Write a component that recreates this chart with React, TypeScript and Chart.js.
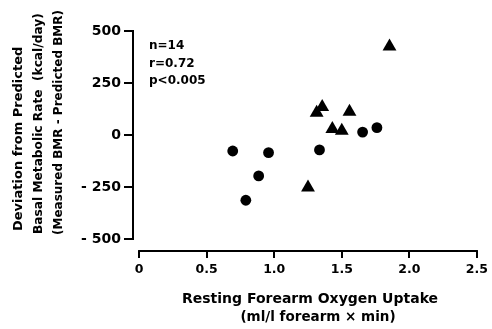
import React, { useEffect, useRef } from "react";
import { Chart, registerables } from "chart.js";

Chart.register(...registerables);

// Data
const circleX = [0.693, 0.79, 0.885, 0.958, 1.335, 1.654, 1.76];
const circleY = [-77, -314, -197, -85, -72, 14, 35];
const triangleX = [1.25, 1.314, 1.355, 1.43, 1.5, 1.557, 1.853];
const triangleY = [-253, 107, 135, 29, 20, 112, 425];

const xTickValues = [0, 0.5, 1.0, 1.5, 2.0, 2.5];
const xTickLabels = ["0", "0.5", "1.0", "1.5", "2.0", "2.5"];
const yTickValues = [-500, -250, 0, 250, 500];
const yTickLabels = ["- 500", "- 250", "0", "250", "500"];

const yTitleLines = [
  "Deviation from Predicted",
  "Basal Metabolic Rate  (kcal/day)",
  "(Measured BMR - Predicted BMR)",
];
const xTitleLines = ["Resting Forearm Oxygen Uptake", "(ml/l forearm \u00d7 min)"];
const statsLines = ["n=14", "r=0.72", "p<0.005"];

const FONT = "'DejaVu Sans', 'Liberation Sans', sans-serif";

const decorPlugin = {
  id: "decor",
  afterDraw(chart: any) {
    const { ctx, chartArea } = chart;
    const x = chart.scales.x;
    const y = chart.scales.y;
    ctx.save();
    // axis lines (detached, like the reference)
    ctx.strokeStyle = "#000";
    ctx.lineWidth = 2;
    ctx.beginPath();
    ctx.moveTo(chartArea.left, y.getPixelForValue(500) - 1);
    ctx.lineTo(chartArea.left, y.getPixelForValue(-500) + 1);
    ctx.moveTo(x.getPixelForValue(0) - 1, chartArea.bottom);
    ctx.lineTo(x.getPixelForValue(2.5) + 1, chartArea.bottom);
    ctx.stroke();

    // stats text
    ctx.fillStyle = "#000";
    ctx.font = `bold 12px ${FONT}`;
    ctx.textAlign = "left";
    ctx.textBaseline = "middle";
    statsLines.forEach((t, i) => {
      ctx.fillText(t, chartArea.left + 16, 46 + i * 17.5);
    });

    // x title
    ctx.textAlign = "center";
    ctx.font = `bold 14px ${FONT}`;
    ctx.fillText(xTitleLines[0], 310, 299);
    ctx.font = `bold 13.5px ${FONT}`;
    ctx.fillText(xTitleLines[1], 318, 317);

    // y title (rotated, start-aligned at bottom)
    const ySizes = [13, 12.2, 12];
    const yStarts = [231, 234, 235];
    yTitleLines.forEach((t, i) => {
      ctx.save();
      ctx.font = `bold ${ySizes[i]}px ${FONT}`;
      ctx.translate(19 + i * 20, yStarts[i]);
      ctx.rotate(-Math.PI / 2);
      ctx.textAlign = "left";
      ctx.textBaseline = "middle";
      ctx.fillText(t, 0, 0);
      ctx.restore();
    });
    ctx.restore();
  },
};

export default function App() {
  const ref = useRef<HTMLCanvasElement | null>(null);
  useEffect(() => {
    if (!ref.current) return;
    const chart = new Chart(ref.current, {
      type: "scatter",
      data: {
        datasets: [
          {
            label: "circles",
            data: circleX.map((v, i) => ({ x: v, y: circleY[i] })),
            pointStyle: "circle",
            pointRadius: 5.4,
            backgroundColor: "#000",
            borderColor: "#000",
            borderWidth: 0,
          },
          {
            label: "triangles",
            data: triangleX.map((v, i) => ({ x: v, y: triangleY[i] })),
            pointStyle: "triangle",
            pointRadius: 8,
            backgroundColor: "#000",
            borderColor: "#000",
            borderWidth: 0,
          },
        ],
      },
      options: {
        responsive: false,
        animation: false,
        layout: { padding: { top: 31, right: 13, left: 0, bottom: 0 } },
        plugins: { legend: { display: false }, tooltip: { enabled: false } },
        scales: {
          x: {
            type: "linear",
            min: -0.045,
            max: 2.5,
            afterFit: (s: any) => {
              s.height = 78;
            },
            afterBuildTicks: (s: any) => {
              s.ticks = xTickValues.map((v) => ({ value: v }));
            },
            grid: {
              display: true,
              drawOnChartArea: false,
              drawTicks: true,
              tickLength: 7,
              color: "#000",
              lineWidth: 2,
            },
            border: { display: false },
            ticks: {
              color: "#000",
              padding: 4,
              maxRotation: 0,
              font: { family: FONT, size: 12.5, weight: "bold" },
              callback: (v: any) => {
                const i = xTickValues.indexOf(Number(v));
                return i >= 0 ? xTickLabels[i] : "";
              },
            },
            title: { display: false },
          },
          y: {
            type: "linear",
            min: -558,
            max: 500,
            afterFit: (s: any) => {
              s.width = 133;
            },
            afterBuildTicks: (s: any) => {
              s.ticks = yTickValues.map((v) => ({ value: v }));
            },
            grid: {
              display: true,
              drawOnChartArea: false,
              drawTicks: true,
              tickLength: 9,
              color: "#000",
              lineWidth: 2,
            },
            border: { display: false },
            ticks: {
              color: "#000",
              padding: 3,
              font: { family: FONT, size: 14, weight: "bold" },
              callback: (v: any) => {
                const i = yTickValues.indexOf(Number(v));
                return i >= 0 ? yTickLabels[i] : "";
              },
            },
            title: { display: false },
          },
        },
      },
      plugins: [decorPlugin],
    });
    return () => chart.destroy();
  }, []);

  return (
    <div style={{ position: "fixed", left: 0, top: 0, width: 492, height: 329, background: "#fff" }}>
      <canvas ref={ref} width={492} height={329} />
    </div>
  );
}
